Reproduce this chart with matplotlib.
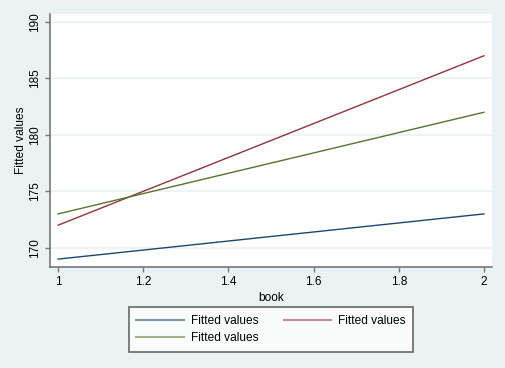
import matplotlib
matplotlib.use("Agg")
import matplotlib.pyplot as plt

book = [1, 2]
fit_blue = [169.0, 173.0]
fit_red = [172.0, 187.0]
fit_green = [173.0, 182.0]
xticks = [1, 1.2, 1.4, 1.6, 1.8, 2]
xticklabels = ["1", "1.2", "1.4", "1.6", "1.8", "2"]
yticks = [170, 175, 180, 185, 190]

bg = "#eaf2f3"
c_blue = "#1a476f"
c_red = "#90353b"
c_green = "#55752f"
axc = "#777777"

plt.rcParams['font.family'] = ['Liberation Sans', 'DejaVu Sans']

fig = plt.figure(figsize=(5.06, 3.68), dpi=100)
fig.patch.set_facecolor(bg)
ax = fig.add_axes([50/506, 1-267/368, 442/506, 253/368])
ax.set_facecolor("white")

l1, = ax.plot(book, fit_blue, color=c_blue, lw=1.0, label="Fitted values")
l2, = ax.plot(book, fit_red, color=c_red, lw=1.0, label="Fitted values")
l3, = ax.plot(book, fit_green, color=c_green, lw=1.0, label="Fitted values")

ax.set_xlim(0.981, 2.019)
ax.set_ylim(168.3, 190.7)
ax.set_xticks(xticks)
ax.set_xticklabels(xticklabels)
ax.set_yticks(yticks)
ax.set_yticklabels([str(v) for v in yticks], rotation=90, va="center")
ax.yaxis.grid(True, color=bg, lw=1.2)
ax.set_axisbelow(True)
for s in ["top", "right"]:
    ax.spines[s].set_visible(False)
for s in ["left", "bottom"]:
    ax.spines[s].set_color(axc)
    ax.spines[s].set_linewidth(1.2)
ax.tick_params(colors="black", labelsize=8.5, length=3.6, width=1, direction="out", pad=2.8)
ax.tick_params(axis="both", color=axc)
ax.set_xlabel("book", fontsize=8.6, labelpad=3)
ax.set_ylabel("Fitted values", fontsize=8.6, va="center")
ax.yaxis.set_label_coords(-29.5/442, 0.5)

leg = fig.legend(handles=[l1, l3, l2], labels=["Fitted values"]*3, ncol=2,
                 loc="center", bbox_to_anchor=(271/506, 1-329.5/368),
                 frameon=True, fancybox=False, fontsize=8.6, handlelength=4.0,
                 columnspacing=2.1, handletextpad=0.6, borderpad=0.62,
                 labelspacing=0.45, borderaxespad=0)
fr = leg.get_frame()
fr.set_edgecolor("#444444")
fr.set_linewidth(1.2)
fr.set_facecolor("white")
for h in leg.legend_handles:
    h.set_alpha(0.55)
    h.set_linewidth(1.5)

fig.savefig("out.png", dpi=100, facecolor=bg)
